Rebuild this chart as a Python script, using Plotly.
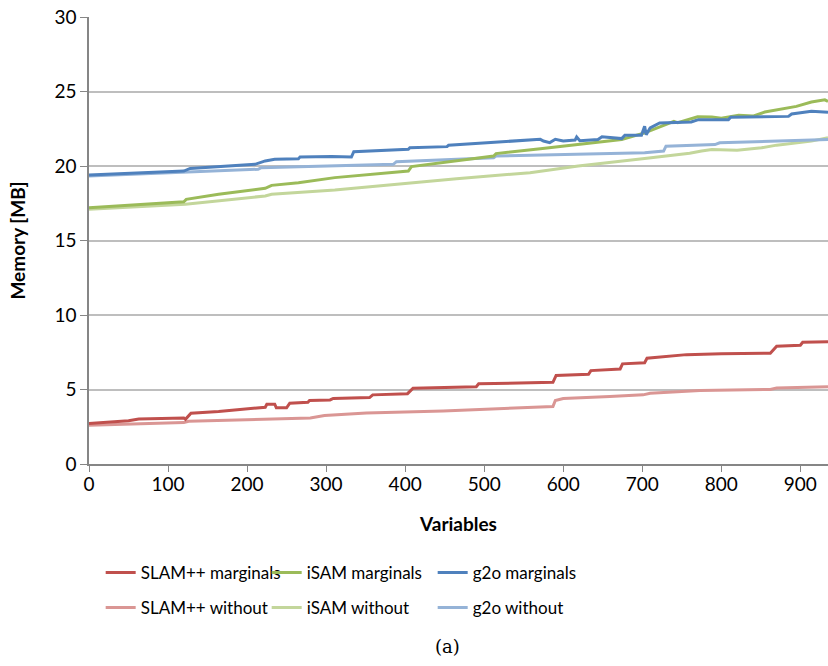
import plotly.graph_objects as go

# memory usage vs. number of variables
slam_marg_x = [0, 50, 63, 120, 122, 129, 164, 197, 223, 225, 235, 237, 250, 254, 277, 279, 305, 309,
               355, 359, 403, 410, 490, 493, 587, 591, 632, 635, 672, 675, 703, 706, 756, 800, 862,
               870, 900, 903, 935]
slam_marg_y = [2.72, 2.91, 3.02, 3.09, 3.0, 3.41, 3.52, 3.7, 3.81, 4.01, 4.01, 3.77, 3.77, 4.08, 4.15,
               4.26, 4.3, 4.4, 4.46, 4.64, 4.72, 5.09, 5.19, 5.38, 5.48, 5.94, 6.02, 6.27, 6.38, 6.72,
               6.8, 7.1, 7.34, 7.4, 7.43, 7.9, 7.97, 8.17, 8.21]

slam_wo_x = [0, 120, 126, 252, 280, 298, 311, 351, 448, 557, 587, 590, 600, 659, 701, 710, 773, 862,
             870, 935]
slam_wo_y = [2.6, 2.78, 2.87, 3.03, 3.09, 3.25, 3.3, 3.43, 3.56, 3.79, 3.86, 4.26, 4.4, 4.53, 4.64,
             4.75, 4.93, 5.0, 5.1, 5.18]

isam_marg_x = [0, 120, 123, 164, 223, 231, 265, 311, 404, 408, 512, 515, 571, 621, 644, 674, 703,
               724, 740, 745, 762, 770, 788, 800, 822, 840, 855, 881, 895, 914, 931, 935]
isam_marg_y = [17.2, 17.6, 17.76, 18.1, 18.5, 18.7, 18.88, 19.22, 19.66, 19.96, 20.67, 20.83, 21.16,
               21.45, 21.56, 21.78, 22.22, 22.67, 23.0, 22.9, 23.16, 23.3, 23.29, 23.2, 23.4, 23.35,
               23.62, 23.89, 24.0, 24.29, 24.44, 24.33]

isam_wo_x = [0, 122, 223, 231, 311, 389, 465, 558, 619, 703, 760, 775, 788, 820, 851, 870, 914, 935]
isam_wo_y = [17.09, 17.43, 17.99, 18.1, 18.39, 18.77, 19.15, 19.55, 20.0, 20.51, 20.85, 21.0, 21.11,
             21.05, 21.22, 21.4, 21.67, 21.89]

g2o_marg_x = [0, 120, 128, 210, 223, 235, 265, 267, 307, 332, 335, 404, 406, 453, 455, 512, 571, 575,
              583, 590, 600, 615, 617, 621, 644, 649, 674, 678, 699, 703, 705, 710, 722, 762, 771,
              809, 812, 885, 889, 914, 935]
g2o_marg_y = [19.4, 19.66, 19.84, 20.11, 20.34, 20.45, 20.49, 20.6, 20.63, 20.6, 20.96, 21.12, 21.23,
              21.3, 21.4, 21.57, 21.79, 21.68, 21.57, 21.79, 21.68, 21.74, 21.95, 21.7, 21.78, 21.96,
              21.84, 22.07, 22.07, 22.67, 22.1, 22.56, 22.89, 22.96, 23.11, 23.11, 23.27, 23.33,
              23.49, 23.67, 23.6]

g2o_wo_x = [0, 122, 214, 218, 311, 385, 389, 512, 515, 621, 703, 727, 730, 792, 798, 935]
g2o_wo_y = [19.33, 19.6, 19.78, 19.89, 20.02, 20.11, 20.29, 20.56, 20.67, 20.8, 20.89, 21.0, 21.33,
            21.44, 21.56, 21.78]

FONT = "Lato"

series = [
    # name, x, y, colour, legend
    ("SLAM++ without", slam_wo_x, slam_wo_y, "#DA9694", "legend2"),
    ("iSAM without", isam_wo_x, isam_wo_y, "#C3D69B", "legend2"),
    ("g2o without", g2o_wo_x, g2o_wo_y, "#95B3D7", "legend2"),
    ("SLAM++ marginals", slam_marg_x, slam_marg_y, "#C0504D", "legend"),
    ("iSAM marginals", isam_marg_x, isam_marg_y, "#9BBB59", "legend"),
    ("g2o marginals", g2o_marg_x, g2o_marg_y, "#4F81BD", "legend"),
]

fig = go.Figure()
for name, xs, ys, col, leg in series:
    fig.add_trace(go.Scatter(x=xs, y=ys, name=name, mode="lines",
                             line=dict(color=col, width=3), legend=leg))

leg_style = dict(orientation="h", x=0.0158, xanchor="left", yref="container",
                 yanchor="middle", entrywidth=121, font=dict(size=17), traceorder="normal")
fig.update_layout(
    width=828, height=666,
    margin=dict(l=89, r=0, t=17, b=202),
    plot_bgcolor="white", paper_bgcolor="white",
    font=dict(family=FONT, size=17, color="black"),
    legend=dict(leg_style, y=0.1396),
    legend2=dict(leg_style, y=0.0871),
)
fig.update_xaxes(range=[0, 935], tickvals=list(range(0, 1000, 100)), showgrid=False,
                 showline=True, linecolor="#868686", linewidth=1.5, automargin=False,
                 ticks="outside", ticklen=6, tickcolor="#868686", tickfont=dict(size=19),
                 ticklabelstandoff=-4,
                 title=dict(text="<b>Variables</b>", font=dict(size=19), standoff=24))
fig.update_yaxes(range=[0, 30], dtick=5, showgrid=True, gridcolor="#BEBEBE", gridwidth=1.5,
                 showline=True, linecolor="#868686", linewidth=1.5, zeroline=False,
                 automargin=False, ticks="outside", ticklen=7, tickcolor="#868686",
                 tickfont=dict(size=19),
                 title=dict(text="<b>Memory [MB]</b>", font=dict(size=19), standoff=24))
fig.add_annotation(text="(a)", xref="paper", yref="paper", x=0.485, y=-0.437,
                   showarrow=False, font=dict(family="DejaVu Serif", size=18))

# drop the default 8px body margin so the figure sits at the page corner
fig.write_html("out.html", config={"displayModeBar": False},
               post_script="document.body.style.margin='0px';")
